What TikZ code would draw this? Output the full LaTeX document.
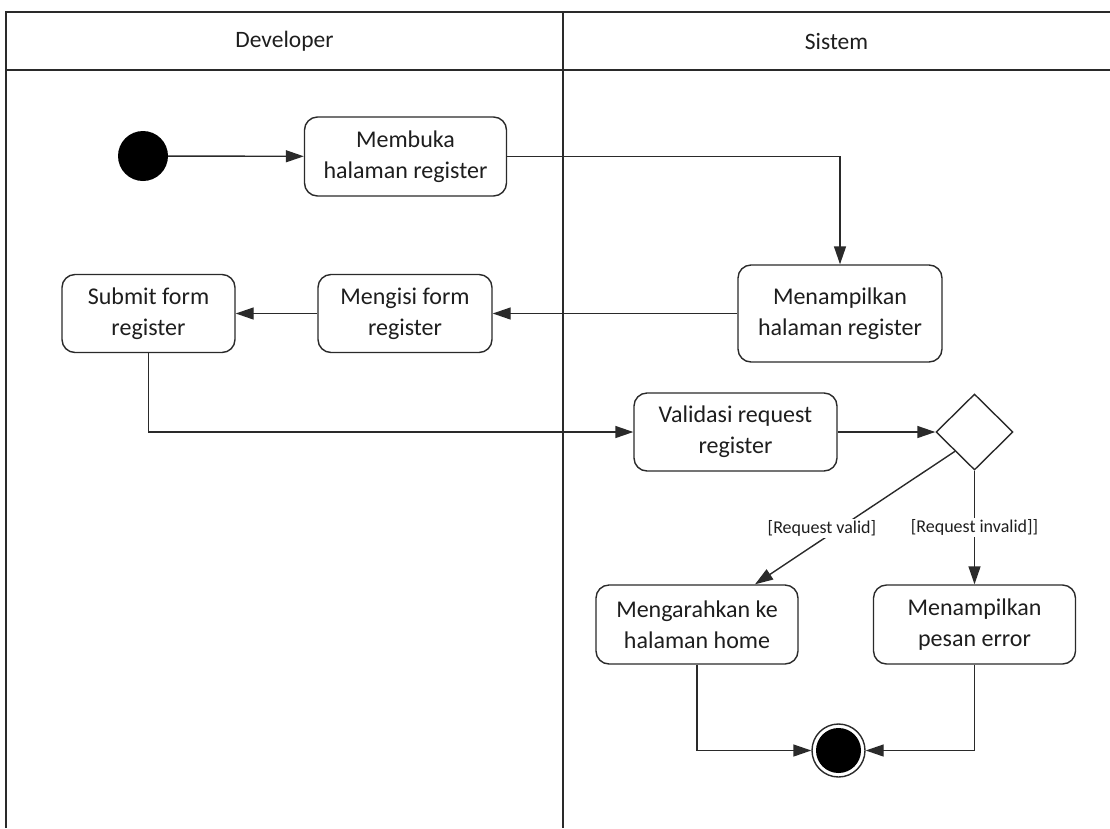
\documentclass[tikz,border=0pt]{standalone}
\usepackage{fontspec}
\setmainfont{Carlito}
\usetikzlibrary{arrows.meta,shapes.geometric,calc}

\definecolor{ink}{HTML}{1E1E1E}
\definecolor{edge}{HTML}{2A2A2A}

\begin{document}
\begin{tikzpicture}[x=1pt,y=-1pt,
  lane/.style={draw=edge, line width=1.6pt},
  head/.style={font=\fontsize{23.5}{28}\selectfont, text=ink, inner sep=0pt},
  act/.style={draw=edge, line width=1.4pt, rounded corners=13pt, fill=white,
    align=center, font=\fontsize{24}{31}\selectfont, text=ink, inner sep=0pt},
  flow/.style={draw=edge, line width=1.4pt, -{Triangle[length=18pt,width=12pt]}},
  guard/.style={font=\fontsize{18}{20}\selectfont, text=ink, fill=white, inner sep=1.5pt},
  startnode/.style={circle, fill=black, minimum size=50pt, inner sep=0pt},
  endring/.style={circle, draw=edge, line width=1.4pt, fill=white, minimum size=53pt, inner sep=0pt},
  enddot/.style={circle, fill=black, minimum size=45pt, inner sep=0pt},
  decision/.style={diamond, draw=edge, line width=1.4pt, fill=white, minimum width=77pt,
    minimum height=76pt, inner sep=0pt}]
\useasboundingbox (0,0) rectangle (1110,828);

% swimlanes
\draw[lane] (6,828) -- (6,12) -- (1110,12);
\draw[lane] (6,70) -- (1110,70);
\draw[lane] (563,12) -- (563,828);
\node[head] (devhead) at (284.5,41) {Developer};
\node[head] (syshead) at (836.5,41) {Sistem};

% activities
\node[startnode] (init) at (143,156) {};
\node[act, minimum width=202pt, minimum height=79pt] (open) at (405.5,156.5) {Membuka\\halaman register};
\node[act, minimum width=204pt, minimum height=97pt] (show) at (840,313.5) {Menampilkan\\halaman register};
\node[act, minimum width=174pt, minimum height=78pt] (fill) at (405,313.5) {Mengisi form\\register};
\node[act, minimum width=173pt, minimum height=78pt] (submit) at (148.5,313.5) {Submit form\\register};
\node[act, minimum width=203pt, minimum height=78pt] (valid) at (735.5,432) {Validasi request\\register};
\node[decision] (dec) at (974.5,432) {};
\node[act, minimum width=202pt, minimum height=79pt] (home) at (697,624.5) {Mengarahkan ke\\halaman home};
\node[act, minimum width=202pt, minimum height=79pt] (err) at (974.5,624.5) {Menampilkan\\pesan error};
\node[endring] (fin) at (838.5,750.5) {};
\node[enddot] (findot) at (fin.center) {};

% control flow
\draw[flow] (init) -- (open);
\draw[flow] (open.east) -| (show.north);
\draw[flow] (show) -- (fill);
\draw[flow] (fill) -- (submit);
\draw[flow] (submit.south) |- (valid.west);
\draw[flow] (valid) -- (dec);
\draw[flow] (dec.south west) -- ($(home.north)+(58,0)$)
  node[guard, pos=0.58, xshift=-17pt] (gvalid) {[Request valid]};
\draw[flow] (dec.south) -- (err.north)
  node[guard, midway] (ginvalid) {[Request invalid]]};
\draw[flow] (home.south) |- (fin.west);
\draw[flow] (err.south) |- (fin.east);
\end{tikzpicture}
\end{document}
